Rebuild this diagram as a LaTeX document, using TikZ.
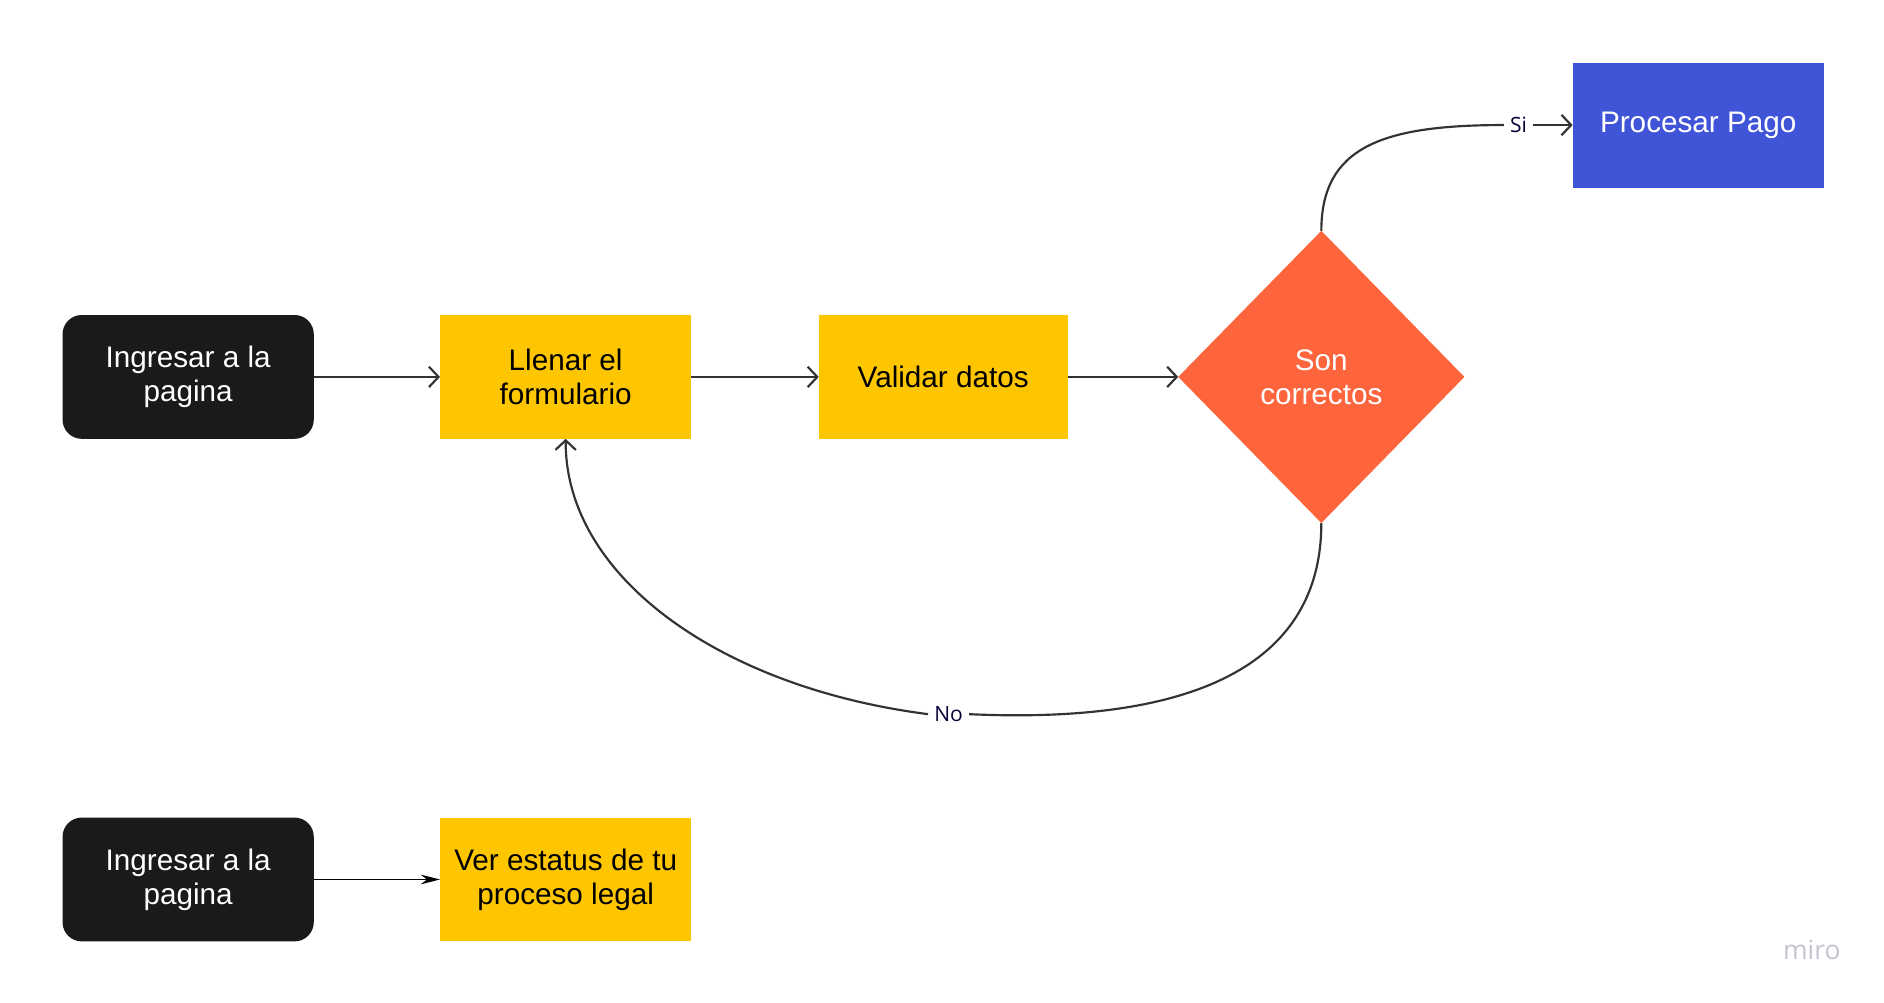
\documentclass[tikz,border=0pt]{standalone}
\usepackage{fontspec}
\setmainfont{Liberation Sans}
\newfontfamily\labelfont{Open Sans}
\usetikzlibrary{arrows.meta,shapes.geometric}
\definecolor{boxblack}{HTML}{1A1A1A}
\definecolor{boxyellow}{HTML}{FEC600}
\definecolor{boxorange}{HTML}{FF653D}
\definecolor{boxblue}{HTML}{4054D7}
\definecolor{connector}{HTML}{333333}
\definecolor{labelnavy}{HTML}{050038}
\definecolor{watermark}{HTML}{C4C4CE}
\tikzset{
  box/.style={rectangle, minimum width=209pt, minimum height=103pt, inner sep=0pt, outer sep=0pt,
    align=center, font=\fontsize{24.7}{28.5}\selectfont},
  startbox/.style={box, fill=boxblack, text=white, rounded corners=16pt},
  stepbox/.style={box, fill=boxyellow, text=black},
  paybox/.style={box, fill=boxblue, text=white, minimum height=104pt},
  decision/.style={diamond, fill=boxorange, text=white, minimum width=238pt, minimum height=243pt,
    inner sep=0pt, outer sep=0pt, align=center, font=\fontsize{24.7}{28.5}\selectfont},
  conn/.style={draw=connector, line width=1.8pt},
  openarrow/.style={conn, -{Straight Barb[length=8pt,width=17pt,line width=1.8pt]}},
  thinarrow/.style={draw=black, line width=1.1pt, -{Stealth[length=16pt,width=8pt]}},
  edgelabel/.style={fill=white, inner xsep=5pt, inner ysep=2pt, text=labelnavy, font=\labelfont\fontsize{17.5}{20}\selectfont}
}
\begin{document}
\begin{tikzpicture}[x=1pt,y=-1pt]
\useasboundingbox[fill=white] (0,0) rectangle (1567,834.2);

\node[startbox] (start1) at (156.5,313.5) {Ingresar a la\\pagina};
\node[stepbox] (llenar) at (470.5,313.5) {Llenar el\\formulario};
\node[stepbox, minimum width=207pt] (validar) at (784.5,313.5) {Validar datos};
\node[decision] (dia) at (1099,313.5) {Son\\correctos};
\node[paybox] (pago) at (1412.5,104) {Procesar Pago};

\node[startbox] (start2) at (156.5,731.5) {Ingresar a la\\pagina};
\node[stepbox] (ver) at (470.5,731.5) {Ver estatus de tu\\proceso legal};

\node[text=watermark, font=\labelfont\fontsize{22}{24}\selectfont, inner sep=0pt] (miro) at (1507,790) {miro};

\draw[openarrow] (start1.east) -- (llenar.west);
\draw[openarrow] (llenar.east) -- (validar.west);
\draw[openarrow] (validar.east) -- (dia.west);

\node[edgelabel] (si) at (1263,104) {Si};
\draw[conn] (dia.north) .. controls (1099,122) and (1150,104) .. (si.west);
\draw[openarrow] (si.east) -- (pago.west);

\node[edgelabel] (no) at (789,594) {No};
\draw[conn] (dia.south) .. controls (1099,560) and (980,602) .. (no.east);
\draw[openarrow] (no.west) .. controls (600,572) and (470,480) .. (llenar.south);

\draw[thinarrow] (start2.east) -- (ver.west);
\end{tikzpicture}
\end{document}
